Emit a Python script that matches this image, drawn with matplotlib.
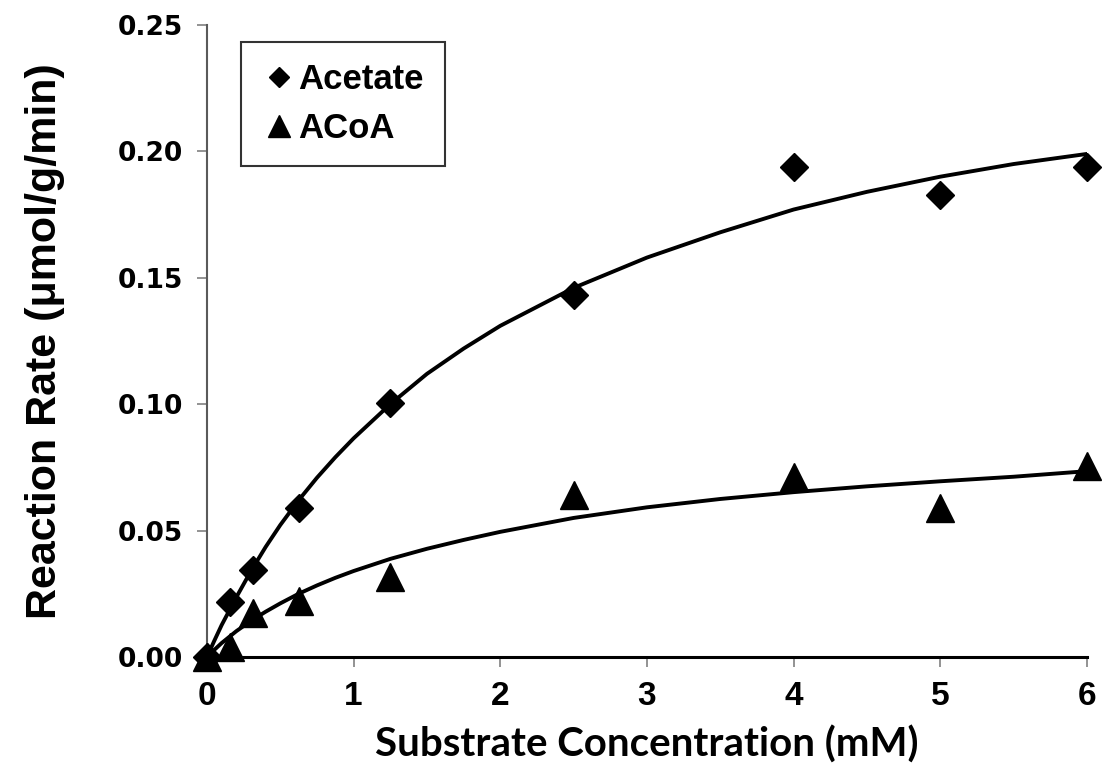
"""Substrate saturation curves for acetate and ACoA."""

import matplotlib
matplotlib.use("Agg")
import matplotlib.pyplot as plt
from matplotlib.lines import Line2D

# measured points
conc_mM = [0, 0.156, 0.3125, 0.625, 1.25, 2.5, 4, 5, 6]
acetate_rate = [0, 0.0218, 0.0344, 0.0588, 0.1003, 0.1432, 0.1937, 0.1828, 0.1937]
acoa_rate = [0, 0.004, 0.0174, 0.0223, 0.0315, 0.0639, 0.0713, 0.0588, 0.0754]

# fitted curves
fit_conc = [0, 0.05, 0.1, 0.2, 0.3, 0.4, 0.5, 0.625, 0.75, 0.875, 1, 1.25, 1.5,
            1.75, 2, 2.5, 3, 3.5, 4, 4.5, 5, 5.5, 6]
acetate_fit = [0, 0.0064, 0.0126, 0.0236, 0.0340, 0.0435, 0.0522, 0.0620, 0.0709,
               0.0790, 0.0865, 0.1000, 0.1120, 0.1220, 0.1310, 0.1460, 0.1580,
               0.1680, 0.1770, 0.1840, 0.1900, 0.1950, 0.1990]
acoa_fit = [0, 0.0028, 0.0055, 0.0102, 0.0143, 0.0179, 0.0212, 0.0250, 0.0283,
            0.0313, 0.0340, 0.0388, 0.0428, 0.0463, 0.0495, 0.0550, 0.0592,
            0.0625, 0.0652, 0.0675, 0.0695, 0.0713, 0.0735]

x_ticks = [0, 1, 2, 3, 4, 5, 6]
y_ticks = [0.00, 0.05, 0.10, 0.15, 0.20, 0.25]

bold_sans = ["Liberation Sans", "DejaVu Sans"]

fig = plt.figure(figsize=(11.02, 7.72), dpi=100)
ax = fig.add_axes([0.1878, 0.1490, 0.7985, 0.8186])

ax.plot(fit_conc, acetate_fit, color="black", lw=2.8, solid_capstyle="round",
        solid_joinstyle="round", zorder=2)
ax.plot(fit_conc, acoa_fit, color="black", lw=2.8, solid_capstyle="round",
        solid_joinstyle="round", zorder=2)
ax.plot(conc_mM, acetate_rate, ls="none", marker="D", ms=13.8, color="black",
        clip_on=False, zorder=3)
ax.plot(conc_mM, acoa_rate, ls="none", marker="^", ms=19.5, color="black",
        clip_on=False, zorder=3)

ax.set_xlim(0, 6)
ax.set_ylim(0, 0.25)
ax.set_xticks(x_ticks)
ax.set_yticks(y_ticks)
ax.set_xticklabels([str(v) for v in x_ticks])
ax.set_yticklabels([f"{v:.2f}" for v in y_ticks])

for spine in ("top", "right"):
    ax.spines[spine].set_visible(False)
ax.spines["left"].set_color("#5a5a5a")
ax.spines["left"].set_linewidth(1.5)
ax.spines["bottom"].set_color("black")
ax.spines["bottom"].set_linewidth(2.2)

ax.tick_params(axis="both", direction="out", length=7, width=1.3, color="#8a8a8a")
ax.tick_params(axis="y", pad=10)
ax.tick_params(axis="x", pad=10)
for label in ax.get_yticklabels():
    label.set_family(["DejaVu Sans"])
    label.set_fontweight("bold")
    label.set_fontsize(19)
for label in ax.get_xticklabels():
    label.set_family(bold_sans)
    label.set_fontweight("bold")
    label.set_fontsize(24)

ax.set_xlabel("Substrate Concentration (mM)", family=["Lato", "DejaVu Sans"],
              fontweight="bold", fontsize=29, labelpad=10)
ax.set_ylabel("Reaction Rate (μmol/g/min)", family=bold_sans,
              fontweight="bold", fontsize=31, labelpad=38)

handles = [
    Line2D([], [], ls="none", marker="D", ms=10.5, color="black", label="Acetate"),
    Line2D([], [], ls="none", marker="^", ms=15.5, color="black", label="ACoA"),
]
leg = fig.legend(handles=handles, loc="upper left",
                 bbox_to_anchor=(241 / 1102, 1 - 42 / 772), borderaxespad=0,
                 prop={"family": bold_sans, "weight": "bold", "size": 25},
                 frameon=True, fancybox=False, edgecolor="black",
                 handlelength=1.0, handletextpad=0.06, borderpad=0.6,
                 labelspacing=0.47)
leg.get_frame().set_linewidth(1.5)

fig.savefig("out.png", dpi=100)
